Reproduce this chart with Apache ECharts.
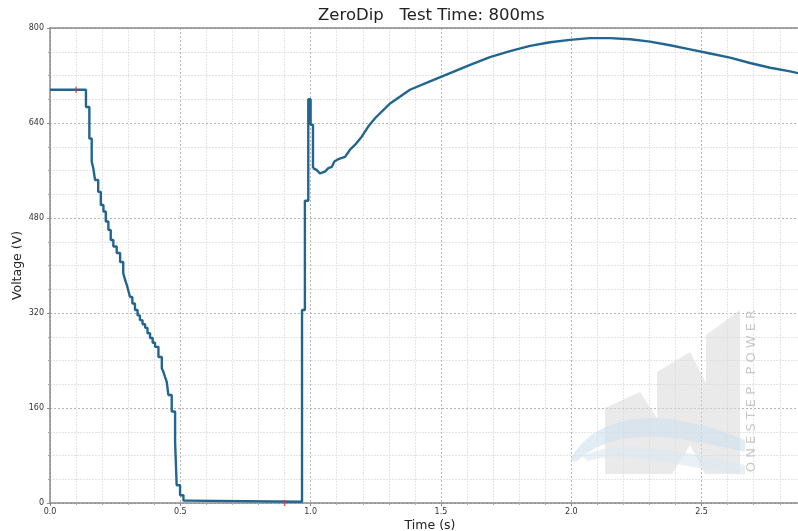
<!DOCTYPE html>
<html>
<head>
<meta charset="utf-8">
<script src="https://cdn.jsdelivr.net/npm/echarts@6/dist/echarts.min.js"></script>
<style>
html,body{margin:0;padding:0;background:#fff;}
#chart{width:798px;height:531px;}
</style>
</head>
<body>
<div id="chart"></div>
<script>
// Step portion (dip and spike), level starts at each t
var dipT = [0, 0.138, 0.151, 0.160, 0.166, 0.173, 0.185, 0.195, 0.205, 0.214, 0.224, 0.233, 0.243, 0.256, 0.269, 0.281, 0.288, 0.295, 0.301, 0.307, 0.316, 0.326, 0.336, 0.345, 0.355, 0.365, 0.374, 0.384, 0.394, 0.403, 0.416, 0.429, 0.435, 0.441, 0.448, 0.454, 0.467, 0.480, 0.486, 0.499, 0.512, 0.525, 0.967, 0.978, 0.991, 1.000, 1.009];
var dipV = [696, 667, 614, 575, 564, 544, 524, 502, 491, 474, 460, 443, 432, 421, 406, 387, 376, 367, 357, 347, 336, 325, 316, 308, 301, 295, 286, 278, 270, 263, 246, 227, 221, 213, 204, 182, 154, 103, 30, 13, 4, 2, 325, 509, 680, 637, 564];
// Recovery portion
var recT = [1.009, 1.023, 1.036, 1.055, 1.068, 1.081, 1.091, 1.106, 1.132, 1.151, 1.170, 1.196, 1.221, 1.247, 1.305, 1.381, 1.458, 1.535, 1.612, 1.688, 1.765, 1.842, 1.919, 1.995, 2.072, 2.149, 2.226, 2.302, 2.379, 2.456, 2.533, 2.609, 2.686, 2.763, 2.840, 2.870];
var recV = [564, 561, 555, 558, 564, 566, 575, 579, 583, 595, 603, 617, 634, 648, 673, 696, 710, 724, 738, 751, 761, 770, 776, 780, 783, 783, 781, 777, 771, 764, 757, 750, 741, 733, 727, 724];
// Cursor markers
var markT = [0.1, 0.9];
var markV = [696, 0];
var yTicks = [0, 160, 320, 480, 640, 800];
var xTicks = ['0.0', '0.5', '1.0', '1.5', '2.0', '2.5'];
var titleText = 'ZeroDip   Test Time: 800ms';

function zip(a, b) { return a.map(function (v, i) { return [v, b[i]]; }); }
// sample a cubic bezier for the decorative watermark swoosh
function bez(p0, p1, p2, p3, n) {
  var out = [];
  for (var i = 0; i <= n; i++) {
    var t = i / n, u = 1 - t;
    out.push([
      u*u*u*p0[0] + 3*u*u*t*p1[0] + 3*u*t*t*p2[0] + t*t*t*p3[0],
      u*u*u*p0[1] + 3*u*u*t*p1[1] + 3*u*t*t*p2[1] + t*t*t*p3[1]
    ]);
  }
  return out;
}
var swoosh1 = bez([570, 460], [590, 420], [650, 400], [745, 440], 20)
  .concat(bez([745, 452], [690, 440], [620, 420], [576, 462], 20));
var swoosh2 = bez([582, 456], [620, 438], [680, 450], [745, 465], 20)
  .concat(bez([745, 475], [690, 470], [630, 448], [588, 461], 20));

var font = 'DejaVu Sans';
var lineColor = '#22668f';
var chart = echarts.init(document.getElementById('chart'), null, {renderer: 'canvas'});
chart.setOption({
  animation: false,
  backgroundColor: '#ffffff',
  title: {
    text: titleText,
    left: 318, top: 7, padding: 0,
    textStyle: {fontFamily: font, fontSize: 16.5, fontWeight: 'normal', color: '#222'}
  },
  grid: {left: 50, right: 0, top: 28, bottom: 28, containLabel: false, outerBoundsMode: 'none'},
  xAxis: [{
    type: 'value', min: 0, max: 2.87, interval: 0.5,
    name: 'Time (s)', nameLocation: 'middle', nameGap: 16, nameMoveOverlap: false,
    nameTextStyle: {fontFamily: font, fontSize: 12.5, color: '#222', padding: [0, 0, 0, 12]},
    axisLine: {show: true, lineStyle: {color: '#8a8a8a', width: 1.5}},
    axisTick: {show: true, length: 3, lineStyle: {color: '#8a8a8a'}},
    minorTick: {show: true, splitNumber: 5, length: 2, lineStyle: {color: '#aaa'}},
    axisLabel: {
      fontFamily: font, fontSize: 8, color: '#333', margin: 5, showMaxLabel: false,
      formatter: function (v) {
        var i = Math.round(v / 0.5);
        return Math.abs(v - i * 0.5) < 1e-6 && i < xTicks.length ? xTicks[i] : '';
      }
    },
    splitLine: {show: true, lineStyle: {color: '#b5b5b5', type: [2, 2], width: 1}},
    minorSplitLine: {show: true, lineStyle: {color: '#e4e4e4', type: [2, 1], width: 1}}
  }, {
    type: 'value', position: 'top', min: 0, max: 2.87,
    axisLine: {show: true, lineStyle: {color: '#8a8a8a', width: 1.5}},
    axisTick: {show: false}, axisLabel: {show: false}, splitLine: {show: false}
  }],
  yAxis: {
    type: 'value', min: 0, max: 800, interval: 160,
    name: 'Voltage (V)', nameLocation: 'middle', nameGap: 26, nameMoveOverlap: false,
    nameTextStyle: {fontFamily: font, fontSize: 12.5, color: '#222'},
    axisLine: {show: true, lineStyle: {color: '#8a8a8a', width: 1.5}},
    axisTick: {show: true, length: 3, lineStyle: {color: '#8a8a8a'}},
    minorTick: {show: true, splitNumber: 4, length: 2, lineStyle: {color: '#aaa'}},
    axisLabel: {
      fontFamily: font, fontSize: 8, color: '#333', margin: 6,
      formatter: function (v) {
        var i = yTicks.indexOf(Math.round(v));
        return i >= 0 ? String(yTicks[i]) : '';
      }
    },
    splitLine: {show: true, lineStyle: {color: '#b5b5b5', type: [2, 2], width: 1}},
    minorSplitLine: {show: true, lineStyle: {color: '#e4e4e4', type: [2, 1], width: 1}}
  },
  graphic: [
    {
      type: 'polygon', z: 1, silent: true,
      shape: {points: [[605, 474], [605, 408], [640, 392], [657, 418], [657, 372], [690, 352], [706, 383], [706, 335], [740, 310], [740, 474], [705, 474], [690, 445], [672, 474]]},
      style: {fill: '#d9d9d9', opacity: 0.55}
    },
    {
      type: 'polygon', z: 2, silent: true,
      shape: {points: swoosh1},
      style: {fill: '#cfe0ec', opacity: 0.6}
    },
    {
      type: 'polygon', z: 2, silent: true,
      shape: {points: swoosh2},
      style: {fill: '#dbe8f1', opacity: 0.6}
    },
    {
      type: 'text', z: 2, silent: true, x: 752, y: 391, rotation: Math.PI / 2,
      style: {text: 'O N E S T E P   P O W E R', fill: '#c8c8c8', font: '13px "DejaVu Sans"', textAlign: 'center', textVerticalAlign: 'middle'}
    }
  ],
  series: [
    {
      type: 'line', xAxisIndex: 0, step: 'end', data: zip(dipT, dipV),
      showSymbol: false, lineStyle: {color: lineColor, width: 2.4}, z: 5
    },
    {
      type: 'line', xAxisIndex: 0, data: zip(recT, recV),
      showSymbol: false, lineStyle: {color: lineColor, width: 2.4}, z: 5
    },
    {
      type: 'scatter', xAxisIndex: 0, data: zip(markT, markV),
      symbol: 'rect', symbolSize: [1.5, 6], itemStyle: {color: '#e8322a'}, z: 6
    }
  ]
});
</script>
</body>
</html>
